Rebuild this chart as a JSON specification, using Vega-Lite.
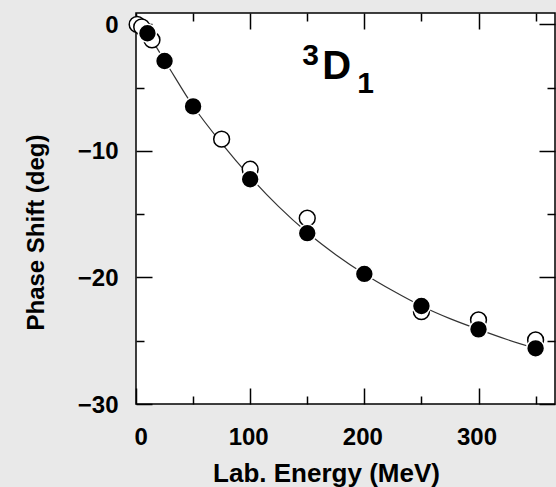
{
  "$schema": "https://vega.github.io/schema/vega-lite/v6.json",
  "width": 419,
  "height": 391,
  "autosize": "none",
  "padding": {"left": 136, "top": 13, "right": 1, "bottom": 83},
  "background": "#e9e9e9",
  "view": {"fill": "white", "stroke": "black", "strokeWidth": 1.5},
  "datasets": {
    "curve": [
      {"E": 0, "delta": 0},
      {"E": 5, "delta": -0.25},
      {"E": 10, "delta": -0.75},
      {"E": 25, "delta": -2.85},
      {"E": 50, "delta": -6.45},
      {"E": 75, "delta": -9.4},
      {"E": 100, "delta": -12.05},
      {"E": 125, "delta": -14.4},
      {"E": 150, "delta": -16.45},
      {"E": 175, "delta": -18.2},
      {"E": 200, "delta": -19.72},
      {"E": 225, "delta": -21.05},
      {"E": 250, "delta": -22.25},
      {"E": 275, "delta": -23.25},
      {"E": 300, "delta": -24.1},
      {"E": 325, "delta": -24.9},
      {"E": 350, "delta": -25.6}
    ],
    "open": [
      {"E": 1, "delta": 0.0},
      {"E": 5, "delta": -0.2},
      {"E": 14, "delta": -1.23},
      {"E": 75, "delta": -9.07},
      {"E": 100, "delta": -11.45},
      {"E": 150, "delta": -15.32},
      {"E": 200, "delta": -19.72},
      {"E": 250, "delta": -22.7},
      {"E": 300, "delta": -23.36},
      {"E": 350, "delta": -24.94}
    ],
    "filled": [
      {"E": 10, "delta": -0.7},
      {"E": 25, "delta": -2.89},
      {"E": 50, "delta": -6.48},
      {"E": 100, "delta": -12.24},
      {"E": 150, "delta": -16.5},
      {"E": 200, "delta": -19.72},
      {"E": 250, "delta": -22.25},
      {"E": 300, "delta": -24.1},
      {"E": 350, "delta": -25.6}
    ],
    "label": [
      {"t": "3", "E": 145.6, "delta": -3.2},
      {"t": "D", "E": 163.2, "delta": -4.31},
      {"t": "1", "E": 193.9, "delta": -5.41}
    ]
  },
  "layer": [
    {
      "data": {"name": "curve"},
      "mark": {"type": "line", "color": "#333333", "strokeWidth": 1.2, "interpolate": "monotone", "clip": false},
      "encoding": {
        "x": {"field": "E", "type": "quantitative", "scale": {"domain": [0, 367], "nice": false, "zero": false},
              "axis": {"orient": "bottom", "values": [0, 100, 200, 300], "tickSize": -16, "labelPadding": 37, "labelOffset": -2, "format": "d", "title": "Lab. Energy (MeV)", "titleX": 190, "titlePadding": 11, "titleFontSize": 26}},
        "y": {"field": "delta", "type": "quantitative", "scale": {"domain": [-30, 0.9], "nice": false, "zero": false},
              "axis": {"orient": "left", "values": [0, -10, -20, -30], "tickSize": -16, "labelPadding": 34, "labelOffset": 1, "format": "d", "title": "Phase Shift (deg)", "titleY": 219, "titlePadding": 29}}
      }
    },
    {
      "data": {"name": "open"},
      "mark": {"type": "point", "shape": "circle", "filled": true, "fill": "white", "stroke": "black", "strokeWidth": 1.5, "size": 250, "opacity": 1, "clip": false},
      "encoding": {
        "x": {"field": "E", "type": "quantitative", "scale": {"domain": [0, 367], "nice": false, "zero": false},
              "axis": {"orient": "bottom", "values": [50, 150, 250, 350], "tickSize": -8, "labels": false, "title": null}},
        "y": {"field": "delta", "type": "quantitative", "scale": {"domain": [-30, 0.9], "nice": false, "zero": false},
              "axis": {"orient": "left", "values": [-5, -15, -25], "tickSize": -8, "labels": false, "title": null}}
      }
    },
    {
      "data": {"name": "filled"},
      "mark": {"type": "point", "shape": "circle", "filled": true, "fill": "black", "stroke": "white", "strokeWidth": 1.5, "size": 320, "opacity": 1, "clip": false},
      "encoding": {
        "x": {"field": "E", "type": "quantitative", "scale": {"domain": [0, 367], "nice": false, "zero": false},
              "axis": {"orient": "top", "values": [0, 100, 200, 300], "tickSize": -16, "labels": false, "title": null}},
        "y": {"field": "delta", "type": "quantitative", "scale": {"domain": [-30, 0.9], "nice": false, "zero": false},
              "axis": {"orient": "right", "values": [0, -10, -20, -30], "tickSize": -16, "labels": false, "title": null}}
      }
    },
    {
      "data": {"name": "label"},
      "mark": {"type": "text", "align": "left", "baseline": "alphabetic", "font": "Liberation Sans", "fontWeight": "bold", "color": "black"},
      "encoding": {
        "x": {"field": "E", "type": "quantitative", "scale": {"domain": [0, 367], "nice": false, "zero": false},
              "axis": {"orient": "top", "values": [50, 150, 250, 350], "tickSize": -8, "labels": false, "title": null}},
        "y": {"field": "delta", "type": "quantitative", "scale": {"domain": [-30, 0.9], "nice": false, "zero": false},
              "axis": {"orient": "right", "values": [-5, -15, -25], "tickSize": -8, "labels": false, "title": null}},
        "text": {"field": "t", "type": "nominal"},
        "size": {"condition": {"test": "datum.t === 'D'", "value": 40}, "value": 30}
      }
    }
  ],
  "resolve": {"axis": {"x": "independent", "y": "independent"}},
  "config": {
    "axis": {
      "labelFont": "Liberation Sans", "labelFontWeight": "bold", "labelFontSize": 24, "labelColor": "black",
      "titleFont": "Liberation Sans", "titleFontWeight": "bold", "titleFontSize": 24, "titleColor": "black",
      "domain": false, "grid": false, "tickColor": "black", "tickWidth": 1.5
    }
  }
}
